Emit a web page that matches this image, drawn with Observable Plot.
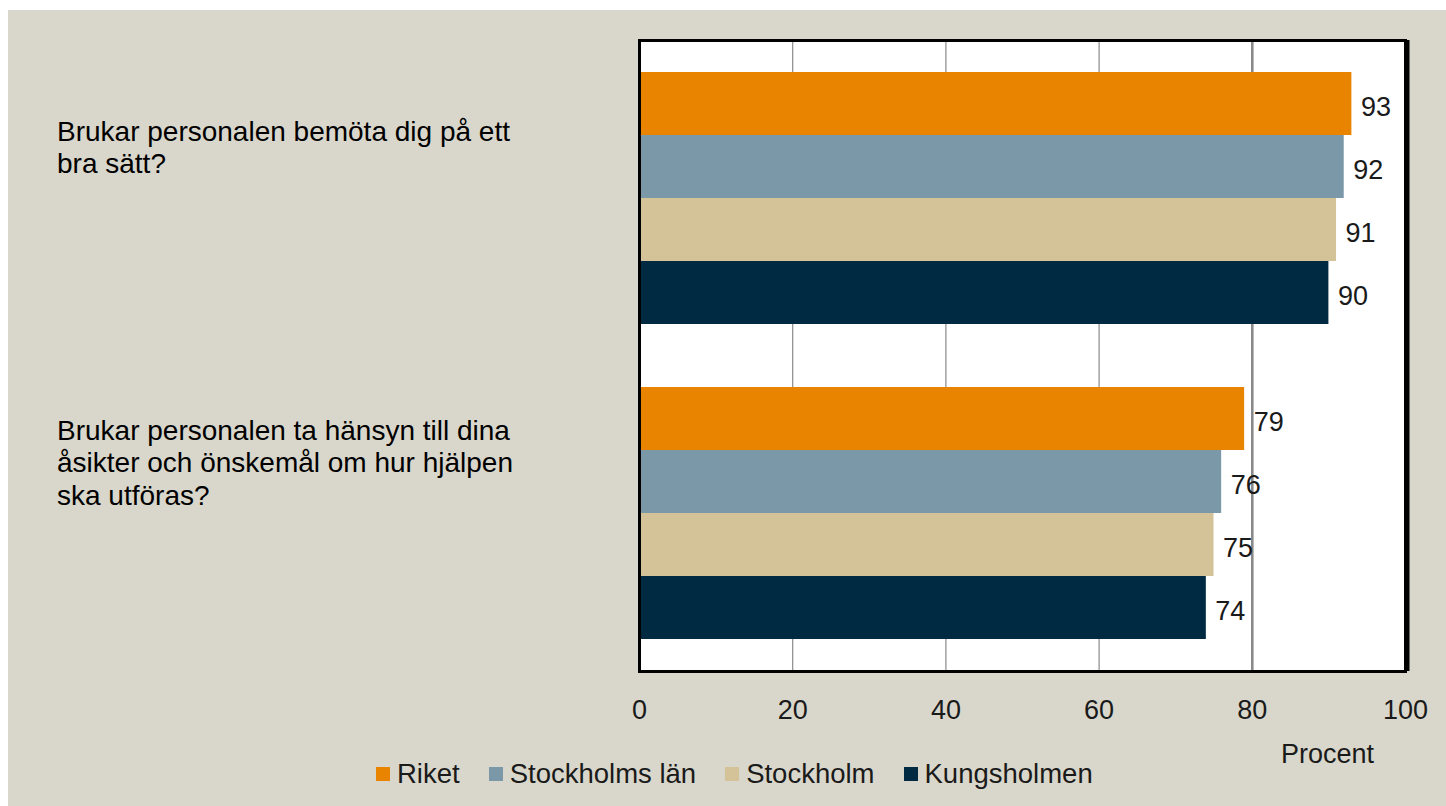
<!DOCTYPE html>
<html>
<head>
<meta charset="utf-8">
<script src="https://cdn.jsdelivr.net/npm/d3@7"></script>
<script src="https://cdn.jsdelivr.net/npm/@observablehq/plot@0.6"></script>
<style>
  html, body { margin: 0; padding: 0; background: #ffffff; }
  #wrap { position: absolute; left: 8px; top: 10px; width: 1438px; height: 796px; background: #d9d7cb; overflow: hidden; }
  #chart { position: absolute; left: 0; top: 0; }
  #legend { position: absolute; left: 368px; top: 747px; }
  .lg-swatch { margin-right: 29px; }
  .lg-swatch > svg { margin-right: 7px; }
</style>
</head>
<body>
<div id="wrap">
  <div id="chart"></div>
  <div id="legend"></div>
</div>
<script>
// ---- data ----
const questions = [
  "Brukar personalen bemöta dig på ett\nbra sätt?",
  "Brukar personalen ta hänsyn till dina\nåsikter och önskemål om hur hjälpen\nska utföras?"
];
const regions = ["Riket", "Stockholms län", "Stockholm", "Kungsholmen"];
const colors = ["#e88400", "#7b98a8", "#d4c298", "#002a42"];
const valuesQ1 = [93, 92, 91, 90];
const valuesQ2 = [79, 76, 75, 74];
const xTicks = [0, 20, 40, 60, 80, 100];
const gridTicks = [20, 40, 60];
const refTicks = [80];
const axisLabel = "Procent";

// ---- table built from arrays ----
const seriesByQuestion = [valuesQ1, valuesQ2];
const rows = [];
seriesByQuestion.forEach((vals, qi) => {
  regions.forEach((r, ri) => rows.push({q: qi, region: r, value: vals[ri], key: `${qi}-${r}`}));
});
const yDomain = [
  ...regions.map(r => `0-${r}`),
  "spacer",
  ...regions.map(r => `1-${r}`)
];
const labelRows = questions.map((t, i) => ({text: t, key: `${i}-${regions[1]}`}));

const FONT = "'Liberation Sans', Arial, sans-serif";

const chart = Plot.plot({
  width: 1438,
  height: 796,
  marginLeft: 631,
  marginRight: 41,
  marginTop: 30,
  marginBottom: 135,
  style: {background: "transparent", fontFamily: FONT, color: "#111"},
  x: {domain: [0, 100], axis: null},
  y: {domain: yDomain, axis: null, paddingInner: 0, paddingOuter: 0.5},
  color: {domain: regions, range: colors},
  marks: [
    Plot.frame({fill: "white", stroke: null}),
    Plot.ruleX(gridTicks, {stroke: "#8a8a8a", strokeWidth: 1.2}),
    Plot.ruleX(refTicks, {stroke: "#8a8a8a", strokeWidth: 2.6}),
    Plot.barX(rows, {x: "value", y: "key", fill: "region", inset: 0}),
    Plot.text(rows, {x: "value", y: "key", text: d => String(d.value), textAnchor: "start", dx: 9, dy: 3, fontSize: 27, fill: "#1a1a1a"}),
    Plot.axisX({ticks: xTicks, tickSize: 0, tickPadding: 28, fontSize: 27, label: null, fill: "#1a1a1a"}),
    Plot.text([axisLabel], {frameAnchor: "bottom-right", textAnchor: "middle", lineAnchor: "bottom", dx: -78, dy: 91, fontSize: 27, fill: "#1a1a1a"}),
    Plot.text(labelRows, {y: "key", text: "text", frameAnchor: "left", textAnchor: "start", lineAnchor: "middle", dx: -582.5, dy: -20, lineHeight: 1.154, fontSize: 28, fill: "#000"}),
    Plot.frame({stroke: "#000", strokeWidth: 3}),
    Plot.ruleX([xTicks[xTicks.length - 1]], {stroke: "#000", strokeWidth: 5, dx: 1.5})
  ]
});
document.getElementById("chart").appendChild(chart);

const legend = Plot.legend({
  color: {domain: regions, range: colors},
  legend: "swatches",
  swatchSize: 14,
  className: "lg",
  style: {fontFamily: FONT, fontSize: "27.5px", lineHeight: "32px", color: "#1a1a1a", marginBottom: "0"}
});
document.getElementById("legend").appendChild(legend);
</script>
</body>
</html>
